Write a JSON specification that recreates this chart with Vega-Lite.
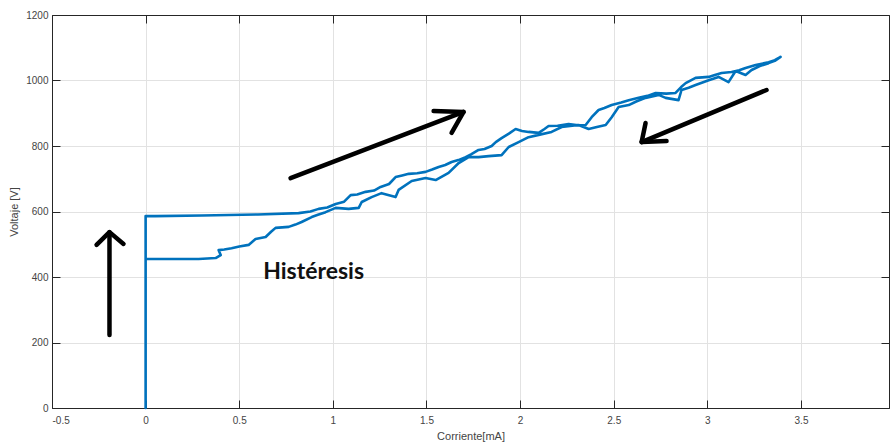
{
  "$schema": "https://vega.github.io/schema/vega-lite/v6.json",
  "width": 837,
  "height": 393,
  "autosize": {"type": "none"},
  "padding": {"left": 52, "top": 15, "right": 2, "bottom": 37},
  "background": "white",
  "config": {
    "view": {"stroke": "#262626", "strokeWidth": 1},
    "axis": {
      "domainColor": "#262626",
      "tickColor": "#262626",
      "gridColor": "#e2e2e2",
      "gridWidth": 1,
      "tickSize": -8,
      "labelFont": "Liberation Sans",
      "labelFontSize": 10,
      "labelColor": "#444444",
      "titleFont": "Liberation Sans",
      "titleFontSize": 11,
      "titleFontWeight": "normal",
      "titleColor": "#444444"
    }
  },
  "datasets": {
    "curve": [
      {"x": 0.0, "y": 0},
      {"x": 0.0, "y": 200},
      {"x": 0.0, "y": 400},
      {"x": 0.0, "y": 586},
      {"x": 0.05, "y": 586},
      {"x": 0.3, "y": 588},
      {"x": 0.6, "y": 591},
      {"x": 0.817, "y": 595},
      {"x": 0.88, "y": 600},
      {"x": 0.924, "y": 608},
      {"x": 0.97, "y": 612},
      {"x": 1.015, "y": 623},
      {"x": 1.06, "y": 630},
      {"x": 1.095, "y": 650},
      {"x": 1.13, "y": 652},
      {"x": 1.175, "y": 660},
      {"x": 1.22, "y": 664},
      {"x": 1.255, "y": 675},
      {"x": 1.3, "y": 684},
      {"x": 1.335, "y": 705},
      {"x": 1.37, "y": 710},
      {"x": 1.405, "y": 715},
      {"x": 1.45, "y": 717},
      {"x": 1.495, "y": 721},
      {"x": 1.53, "y": 728},
      {"x": 1.565, "y": 736},
      {"x": 1.6, "y": 742},
      {"x": 1.634, "y": 751},
      {"x": 1.67, "y": 757},
      {"x": 1.709, "y": 766},
      {"x": 1.74, "y": 775},
      {"x": 1.778, "y": 788},
      {"x": 1.81, "y": 791},
      {"x": 1.848, "y": 800},
      {"x": 1.87, "y": 812},
      {"x": 1.901, "y": 824},
      {"x": 1.94, "y": 838},
      {"x": 1.976, "y": 852},
      {"x": 2.01, "y": 846},
      {"x": 2.045, "y": 843},
      {"x": 2.099, "y": 840},
      {"x": 2.13, "y": 852},
      {"x": 2.152, "y": 861},
      {"x": 2.2, "y": 862},
      {"x": 2.259, "y": 867},
      {"x": 2.31, "y": 863},
      {"x": 2.35, "y": 864},
      {"x": 2.382, "y": 888},
      {"x": 2.419, "y": 910},
      {"x": 2.45, "y": 916},
      {"x": 2.489, "y": 925},
      {"x": 2.54, "y": 933},
      {"x": 2.58, "y": 940},
      {"x": 2.633, "y": 947},
      {"x": 2.68, "y": 953},
      {"x": 2.724, "y": 962},
      {"x": 2.78, "y": 960},
      {"x": 2.83, "y": 962},
      {"x": 2.86, "y": 980},
      {"x": 2.884, "y": 992},
      {"x": 2.937, "y": 1008},
      {"x": 3.007, "y": 1011},
      {"x": 3.04, "y": 1017},
      {"x": 3.076, "y": 1023},
      {"x": 3.129, "y": 1026},
      {"x": 3.17, "y": 1031},
      {"x": 3.204, "y": 1038},
      {"x": 3.258, "y": 1047},
      {"x": 3.327, "y": 1056},
      {"x": 3.36, "y": 1062},
      {"x": 3.391, "y": 1072},
      {"x": 3.36, "y": 1060},
      {"x": 3.327, "y": 1053},
      {"x": 3.28, "y": 1044},
      {"x": 3.236, "y": 1032},
      {"x": 3.204, "y": 1017},
      {"x": 3.151, "y": 1029},
      {"x": 3.113, "y": 995},
      {"x": 3.06, "y": 1011},
      {"x": 3.007, "y": 1001},
      {"x": 2.937, "y": 986},
      {"x": 2.9, "y": 978},
      {"x": 2.862, "y": 971},
      {"x": 2.846, "y": 940},
      {"x": 2.777, "y": 947},
      {"x": 2.74, "y": 956},
      {"x": 2.67, "y": 947},
      {"x": 2.62, "y": 936},
      {"x": 2.58, "y": 925},
      {"x": 2.526, "y": 919},
      {"x": 2.489, "y": 888},
      {"x": 2.457, "y": 864},
      {"x": 2.41, "y": 858},
      {"x": 2.366, "y": 852},
      {"x": 2.312, "y": 864},
      {"x": 2.222, "y": 858},
      {"x": 2.168, "y": 843},
      {"x": 2.099, "y": 834},
      {"x": 2.045, "y": 827},
      {"x": 1.992, "y": 812},
      {"x": 1.939, "y": 797},
      {"x": 1.901, "y": 772},
      {"x": 1.832, "y": 769},
      {"x": 1.778, "y": 766},
      {"x": 1.725, "y": 766},
      {"x": 1.672, "y": 748},
      {"x": 1.618, "y": 718},
      {"x": 1.549, "y": 696},
      {"x": 1.495, "y": 702},
      {"x": 1.421, "y": 693},
      {"x": 1.351, "y": 666},
      {"x": 1.335, "y": 644},
      {"x": 1.26, "y": 656},
      {"x": 1.207, "y": 644},
      {"x": 1.154, "y": 629},
      {"x": 1.138, "y": 611},
      {"x": 1.084, "y": 608},
      {"x": 1.015, "y": 611},
      {"x": 0.961, "y": 598},
      {"x": 0.92, "y": 590},
      {"x": 0.887, "y": 583},
      {"x": 0.833, "y": 568},
      {"x": 0.8, "y": 560},
      {"x": 0.764, "y": 553},
      {"x": 0.694, "y": 550},
      {"x": 0.67, "y": 538},
      {"x": 0.641, "y": 522},
      {"x": 0.587, "y": 516},
      {"x": 0.55, "y": 498},
      {"x": 0.5, "y": 493},
      {"x": 0.459, "y": 488},
      {"x": 0.42, "y": 484},
      {"x": 0.39, "y": 482},
      {"x": 0.401, "y": 467},
      {"x": 0.374, "y": 458},
      {"x": 0.283, "y": 455},
      {"x": 0.1, "y": 455},
      {"x": 0.0, "y": 455}
    ],
    "arrows": [
      {"a": "up", "x": -0.193, "y": 223},
      {"a": "up", "x": -0.193, "y": 537},
      {"a": "upHead", "x": -0.262, "y": 498},
      {"a": "upHead", "x": -0.193, "y": 537},
      {"a": "upHead", "x": -0.118, "y": 501},
      {"a": "rise", "x": 0.774, "y": 702},
      {"a": "rise", "x": 1.698, "y": 904},
      {"a": "riseHead", "x": 1.538, "y": 907},
      {"a": "riseHead", "x": 1.698, "y": 904},
      {"a": "riseHead", "x": 1.634, "y": 840},
      {"a": "fall", "x": 3.316, "y": 971},
      {"a": "fall", "x": 2.649, "y": 812},
      {"a": "fallHead", "x": 2.67, "y": 870},
      {"a": "fallHead", "x": 2.649, "y": 812},
      {"a": "fallHead", "x": 2.782, "y": 815}
    ]
  },
  "layer": [
    {
      "data": {"name": "curve"},
      "mark": {"type": "line", "color": "#0072BD", "strokeWidth": 2.6, "strokeJoin": "round", "strokeCap": "round"},
      "encoding": {
        "x": {
          "field": "x", "type": "quantitative",
          "scale": {"domain": [-0.5, 3.97], "nice": false, "zero": false},
          "axis": {"orient": "bottom", "values": [-0.5, 0, 0.5, 1, 1.5, 2, 2.5, 3, 3.5], "title": "Corriente[mA]", "labelPadding": 15, "titlePadding": 5, "labelExpr": "'' + datum.value"}
        },
        "y": {
          "field": "y", "type": "quantitative",
          "scale": {"domain": [0, 1200], "nice": false},
          "axis": {"orient": "left", "values": [0, 200, 400, 600, 800, 1000, 1200], "format": "d", "title": "Voltaje [V]", "labelPadding": 12, "titlePadding": 6}
        },
        "order": {"value": null}
      }
    },
    {
      "data": {"name": "arrows"},
      "mark": {"type": "line", "color": "black", "strokeWidth": 4.5, "strokeJoin": "round", "strokeCap": "round"},
      "encoding": {
        "x": {
          "field": "x", "type": "quantitative",
          "axis": {"orient": "top", "values": [-0.5, 0, 0.5, 1, 1.5, 2, 2.5, 3, 3.5], "labels": false, "title": null, "grid": false}
        },
        "y": {
          "field": "y", "type": "quantitative",
          "axis": {"orient": "right", "values": [0, 200, 400, 600, 800, 1000, 1200], "labels": false, "title": null, "grid": false}
        },
        "detail": {"field": "a"},
        "order": {"value": null}
      }
    },
    {
      "data": {"values": [{"x": 0.897, "y": 415, "label": "Histéresis"}]},
      "mark": {"type": "text", "font": "Lato", "fontWeight": "bold", "fontSize": 23, "color": "#111111", "align": "center", "baseline": "middle"},
      "encoding": {
        "x": {"field": "x", "type": "quantitative", "axis": null},
        "y": {"field": "y", "type": "quantitative", "axis": null},
        "text": {"field": "label"}
      }
    }
  ],
  "resolve": {"axis": {"x": "independent", "y": "independent"}}
}
